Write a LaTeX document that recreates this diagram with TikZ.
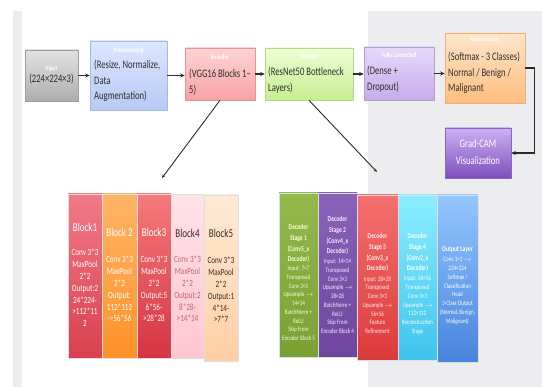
\documentclass[tikz,border=0pt]{standalone}
\usepackage{fontspec}
\setmainfont[FakeStretch=0.75]{Carlito}
\usetikzlibrary{arrows.meta,shadows}
\definecolor{bggray}{HTML}{EDEDEF}
\definecolor{txt}{HTML}{2E2E2E}
\definecolor{arrowc}{HTML}{2B2B2B}
\definecolor{inT}{HTML}{E2E2E2}\definecolor{inB}{HTML}{AEAEAE}\definecolor{inD}{HTML}{9C9C9C}
\definecolor{prT}{HTML}{DDE6FF}\definecolor{prB}{HTML}{B6CAF4}\definecolor{prD}{HTML}{A6B8E0}
\definecolor{enT}{HTML}{FFD4D4}\definecolor{enB}{HTML}{F8A2A2}\definecolor{enD}{HTML}{E49494}
\definecolor{deT}{HTML}{EEFFD6}\definecolor{deB}{HTML}{C6EE90}\definecolor{deD}{HTML}{B4D888}
\definecolor{fcT}{HTML}{E6D8F8}\definecolor{fcB}{HTML}{C6ACEA}\definecolor{fcD}{HTML}{B49CD8}
\definecolor{ouT}{HTML}{FFE6CC}\definecolor{ouB}{HTML}{FFBE7E}\definecolor{ouD}{HTML}{ECB080}
\definecolor{gcT}{HTML}{CDB0F2}\definecolor{gcB}{HTML}{7E4EBE}\definecolor{gcD}{HTML}{8A66C0}
\definecolor{bAT}{HTML}{F27A88}\definecolor{bAB}{HTML}{D8404F}
\definecolor{bBT}{HTML}{FFB468}\definecolor{bBB}{HTML}{FF9228}
\definecolor{bCT}{HTML}{F57A7A}\definecolor{bCB}{HTML}{D63444}
\definecolor{bDT}{HTML}{FFE2E8}\definecolor{bDB}{HTML}{FFC6D2}
\definecolor{bET}{HTML}{FFEAD4}\definecolor{bEB}{HTML}{FFCFA6}
\definecolor{dAT}{HTML}{92BA4C}\definecolor{dAB}{HTML}{78A032}
\definecolor{dBT}{HTML}{8A62BA}\definecolor{dBB}{HTML}{6E469E}
\definecolor{dCT}{HTML}{F47070}\definecolor{dCB}{HTML}{DC3A3A}
\definecolor{dDT}{HTML}{8CEEFF}\definecolor{dDB}{HTML}{3EC4EE}
\definecolor{dET}{HTML}{94C6FF}\definecolor{dEB}{HTML}{4884DC}
\begin{document}
\begin{tikzpicture}[x=1pt,y=-1pt,
  box/.style={rectangle,inner sep=0pt,line width=0.6pt,
    drop shadow={opacity=0.18,shadow xshift=1pt,shadow yshift=-1.2pt}},
  col/.style={rectangle,inner sep=0pt,line width=0.5pt,draw=white!75!gray},
  ttl/.style={text=white,font=\bfseries\fontsize{7}{8}\selectfont,inner sep=0pt},
  main/.style={text=txt,font=\fontsize{11.5}{15.5}\selectfont,align=left,inner sep=0pt,anchor=north west},
  btitle/.style={font=\fontsize{12}{14}\selectfont,inner sep=0pt},
  bbody/.style={font=\fontsize{9.5}{11.8}\selectfont,align=center,inner sep=0pt,anchor=north},
  dtitle/.style={font=\bfseries\fontsize{7.5}{10.7}\selectfont,align=center,inner sep=0pt,anchor=north},
  dbody/.style={font=\fontsize{6.8}{8.75}\selectfont,align=center,inner sep=0pt,anchor=north},
  arr/.style={draw=arrowc,line width=1.3pt,-{Stealth[length=4.5pt,width=4pt]}},
  diag/.style={draw=arrowc,line width=0.9pt,-{Stealth[length=3.5pt,width=3pt]}}]
\useasboundingbox (0,0) rectangle (542,387);
\fill[white] (0,0) rectangle (542,387);
\fill[bggray] (368,11) rectangle (542,387);
\fill[bggray] (13,11) rectangle (22,387);

% top row boxes
\node[box,draw=inD,top color=inT,bottom color=inB,minimum width=53pt,minimum height=51pt] (in) at (51.5,75.5) {};
\node[box,draw=prD,top color=prT,bottom color=prB,minimum width=77pt,minimum height=69pt] (pre) at (128.5,75.5) {};
\node[box,draw=enD,top color=enT,bottom color=enB,minimum width=70pt,minimum height=52pt] (enc) at (220,74) {};
\node[box,draw=deD,top color=deT,bottom color=deB,minimum width=88pt,minimum height=52pt] (dec) at (309,74) {};
\node[box,draw=fcD,top color=fcT,bottom color=fcB,minimum width=70pt,minimum height=53pt] (fc) at (399,73.5) {};
\node[box,draw=ouD,top color=ouT,bottom color=ouB,minimum width=80pt,minimum height=70pt] (out) at (485,68) {};
\node[box,draw=gcD,top color=gcT,bottom color=gcB,minimum width=66pt,minimum height=50pt] (gc) at (478,153) {};

% titles
\node[ttl] (inT) at (51.5,69) {Input};
\node[ttl] (preT) at (128.5,51) {Preprocessing};
\node[ttl] (encT) at (220,57) {Encoder};
\node[ttl] (decT) at (309,56) {Decoder};
\node[ttl] (fcT) at (399,56) {Fully Connected};
\node[ttl] (outT) at (485,40) {Output Layer};

% main texts
\node[text=txt,font=\fontsize{11.5}{15.5}\selectfont,inner sep=0pt] (inX) at (51.5,79) {(224×224×3)};
\node[main] (preX) at (94,60) {(Resize, Normalize,\\Data\\Augmentation)};
\node[main] (encX) at (189,69) {(VGG16 Blocks 1–\\5)};
\node[main] (decX) at (268,67) {(ResNet50 Bottleneck\\Layers)};
\node[main] (fcX) at (367,66) {(Dense +\\Dropout)};
\node[main] (outX) at (448,52) {(Softmax - 3 Classes)\\Normal / Benign /\\Malignant};
\node[text=white,font=\fontsize{11.5}{17}\selectfont,align=center,inner sep=0pt,anchor=north] (gcX) at (478,139.5) {Grad-CAM\\Visualization};

% connectors
\draw[arr] (in.east) -- (pre.west);
\draw[arr] (pre.east) -- (pre.east -| enc.west);
\draw[arr] (enc.east) -- (dec.west);
\draw[arr] (dec.east) -- (dec.east -| fc.west);
\draw[arr] (fc.east) -- (fc.east -| out.west);
\draw[arr] (out.east) -- ++(9,0) |- (gc.east);
\coordinate (encEnd) at (162,178);
\coordinate (decEnd) at (377,172);
\draw[diag] (enc.south) -- (encEnd);
\draw[diag] (dec.south) -- (decEnd);

% encoder blocks
\node[col,top color=bAT,bottom color=bAB,minimum width=34pt,minimum height=164pt] (b1) at (85,276) {};
\node[col,top color=bBT,bottom color=bBB,minimum width=35pt,minimum height=164pt] (b2) at (119.5,276) {};
\node[col,top color=bCT,bottom color=bCB,minimum width=34pt,minimum height=164pt] (b3) at (154,276) {};
\node[col,top color=bDT,bottom color=bDB,minimum width=33pt,minimum height=164pt] (b4) at (187.5,276.5) {};
\node[col,top color=bET,bottom color=bEB,minimum width=34pt,minimum height=166pt] (b5) at (221,278) {};

\node[btitle,text=white] (b1t) at (85,227) {Block1};
\node[bbody,text=white] (b1x) at (85,249) {Conv 3*3\\MaxPool\\2*2\\Output:2\\24*224-\\>112*11\\2};
\node[btitle,text=white] (b2t) at (119.5,232) {Block 2};
\node[bbody,text=white] (b2x) at (119.5,256) {Conv 3*3\\MaxPool\\2*2\\Output:\\112*112\\->56*56};
\node[btitle,text=white] (b3t) at (154,232) {Block3};
\node[bbody,text=white] (b3x) at (154,256) {Conv 3*3\\MaxPool\\2*2\\Output:5\\6*56-\\>28*28};
\node[btitle,text={rgb,255:red,58;green,40;blue,44}] (b4t) at (187.5,233) {Block4};
\node[bbody,text={rgb,255:red,190;green,100;blue,118}] (b4x) at (187.5,256) {Conv 3*3\\MaxPool\\2*2\\Output:2\\8*28-\\>14*14};
\node[btitle,text={rgb,255:red,58;green,42;blue,26}] (b5t) at (221,233) {Block5};
\node[bbody,text={rgb,255:red,58;green,42;blue,26}] (b5x) at (221,257) {Conv 3*3\\MaxPool\\2*2\\Output:1\\4*14-\\>7*7};

% decoder blocks
\node[col,top color=dAT,bottom color=dAB,minimum width=39pt,minimum height=164pt] (d1) at (298.5,275) {};
\node[col,top color=dBT,bottom color=dBB,minimum width=39pt,minimum height=164pt] (d2) at (337.5,275) {};
\node[col,top color=dCT,bottom color=dCB,minimum width=41pt,minimum height=165pt] (d3) at (377.5,277.5) {};
\node[col,top color=dDT,bottom color=dDB,minimum width=39pt,minimum height=165pt] (d4) at (417.5,277.5) {};
\node[col,top color=dET,bottom color=dEB,minimum width=41pt,minimum height=167pt] (d5) at (457.5,278.5) {};

\node[dtitle,text={rgb,255:red,246;green,255;blue,214}] (d1t) at (298.5,224.4) {Decoder\\Stage 1\\(Conv5\_x\\Decoder)};
\node[dbody,text={rgb,255:red,246;green,255;blue,224}] (d1x) at (298.5,266) {Input: 7×7\\Transposed\\Conv 3×3\\Upsample $\rightarrow$\\14×14\\BatchNorm +\\ReLU\\Skip From\\Encoder Block 5};
\node[dtitle,text={rgb,255:red,244;green,236;blue,255}] (d2t) at (337.5,216.4) {Decoder\\Stage 2\\(Conv4\_x\\Decoder)};
\node[dbody,text={rgb,255:red,244;green,236;blue,255}] (d2x) at (337.5,259) {Input: 14×14\\Transposed\\Conv 3×3\\Upsample $\rightarrow$\\28×28\\BatchNorm +\\ReLU\\Skip From\\Encoder Block 4};
\node[dtitle,text={rgb,255:red,255;green,240;blue,236}] (d3t) at (377.5,233.4) {Decoder\\Stage 3\\(Conv3\_x\\Decoder)};
\node[dbody,text={rgb,255:red,255;green,240;blue,236}] (d3x) at (377.5,276.2) {Input: 28×28\\Transposed\\Conv 3×3\\Upsample $\rightarrow$\\56×56\\Feature\\Refinement};
\node[dtitle,text=white] (d4t) at (417.5,233.4) {Decoder\\Stage 4\\(Conv2\_x\\Decoder)};
\node[dbody,text=white] (d4x) at (417.5,276.2) {Input: 56×56\\Transposed\\Conv 3×3\\Upsample $\rightarrow$\\112×112\\Reconstruction\\Stage};
\node[dtitle,text=white] (d5t) at (457.5,246.4) {Output Layer};
\node[dbody,text=white] (d5x) at (457.5,257.2) {Conv 1×1 $\rightarrow$\\224×224\\Softmax /\\Classification\\Head\\3-Class Output\\(Normal, Benign,\\Malignant)};
\end{tikzpicture}
\end{document}
